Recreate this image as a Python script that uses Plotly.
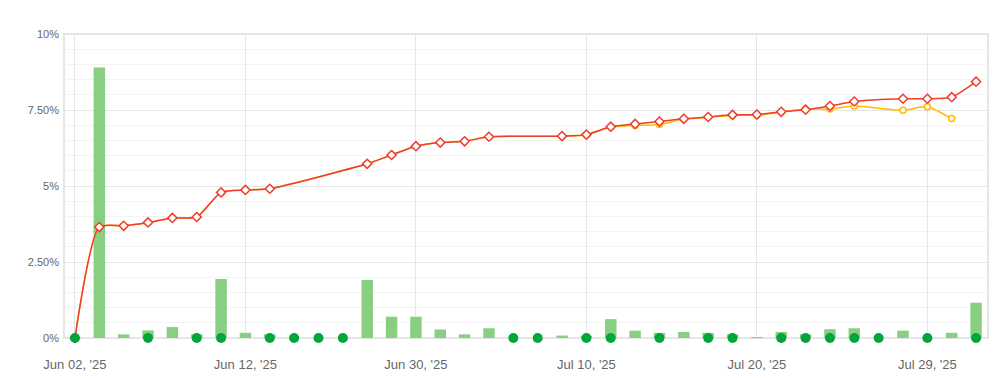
import plotly.graph_objects as go

# ---- data ----
categories = [
    "Jun 02, '25", "Jun 03, '25", "Jun 04, '25", "Jun 05, '25", "Jun 06, '25",
    "Jun 09, '25", "Jun 11, '25", "Jun 12, '25", "Jun 16, '25", "Jun 18, '25",
    "Jun 20, '25", "Jun 23, '25", "Jun 25, '25", "Jun 27, '25", "Jun 30, '25",
    "Jul 01, '25", "Jul 02, '25", "Jul 03, '25", "Jul 04, '25", "Jul 07, '25",
    "Jul 08, '25", "Jul 10, '25", "Jul 11, '25", "Jul 14, '25", "Jul 15, '25",
    "Jul 16, '25", "Jul 17, '25", "Jul 18, '25", "Jul 20, '25", "Jul 21, '25",
    "Jul 22, '25", "Jul 23, '25", "Jul 24, '25", "Jul 25, '25", "Jul 28, '25",
    "Jul 29, '25", "Jul 30, '25", "Jul 31, '25",
]
tick_labels = ["Jun 02, '25", "Jun 12, '25", "Jun 30, '25", "Jul 10, '25", "Jul 20, '25", "Jul 29, '25"]

bar_values = [
    None, 8.9, 0.12, 0.25, 0.36, 0.12, 1.94, 0.17, 0.12, None,
    None, None, 1.91, 0.70, 0.70, 0.28, 0.12, 0.32, None, None,
    0.08, 0.06, 0.62, 0.24, 0.17, 0.20, 0.17, 0.12, 0.03, 0.20,
    0.12, 0.29, 0.32, None, 0.24, None, 0.17, 1.16,
]

zero_dots = [0 if i in (0, 3, 5, 6, 8, 9, 10, 11, 18, 19, 21, 22, 24, 26, 27, 29,
                        30, 31, 32, 33, 35, 37) else None for i in range(38)]

red_values = [
    0.0, 3.65, 3.69, 3.80, 3.95, 3.98, 4.79, 4.87, 4.91, None,
    None, None, 5.73, 6.02, 6.31, 6.43, 6.47, 6.62, None, None,
    6.64, 6.69, 6.95, 7.04, 7.12, 7.21, 7.27, 7.34, 7.35, 7.44,
    7.51, 7.63, 7.78, None, 7.87, 7.87, 7.92, 8.43,
]

orange_values = [
    0.0, 3.65, 3.69, 3.80, 3.95, 3.98, 4.79, 4.87, 4.91, None,
    None, None, 5.73, 6.02, 6.31, 6.43, 6.47, 6.62, None, None,
    6.64, 6.68, 6.94, 6.99, 7.02, 7.20, 7.26, 7.32, 7.33, 7.43,
    7.53, 7.53, 7.63, None, 7.49, 7.61, 7.22, None,
]

y_ticks = [0, 2.5, 5, 7.5, 10]
y_tick_text = ["0%", "2.50%", "5%", "7.50%", "10%"]

# ---- figure ----
fig = go.Figure()

fig.add_trace(go.Bar(
    x=categories, y=bar_values, width=0.47,
    marker=dict(color="#88cf82", line=dict(width=0)),
    hoverinfo="skip",
))

fig.add_trace(go.Scatter(
    x=categories, y=orange_values, mode="lines+markers",
    connectgaps=True,
    line=dict(color="#ffbb00", width=1.5, shape="spline", smoothing=0.6),
    marker=dict(symbol="circle", size=6, color="white",
                line=dict(color="#ffbb00", width=1.5)),
    cliponaxis=False,
))

fig.add_trace(go.Scatter(
    x=categories, y=red_values, mode="lines+markers",
    connectgaps=True,
    line=dict(color="#ee3d2f", width=1.5, shape="spline", smoothing=0.6),
    marker=dict(symbol="diamond", size=7, color="white",
                line=dict(color="#ee3d2f", width=1.5)),
    cliponaxis=False,
))

fig.add_trace(go.Scatter(
    x=categories, y=zero_dots, mode="markers",
    marker=dict(symbol="circle", size=10, color="#00a63a"),
    cliponaxis=False,
))

fig.add_shape(type="rect", xref="paper", yref="paper", x0=0, x1=1, y0=0, y1=1,
              line=dict(color="#e6e6e6", width=2), layer="below")

# page body has an 8px default margin, so the figure is sized/offset to compensate
fig.update_layout(
    width=993, height=370,
    margin=dict(l=56, r=13, t=26, b=40, autoexpand=False),
    paper_bgcolor="white", plot_bgcolor="white",
    showlegend=False,
    font=dict(family="Liberation Sans, Arial, sans-serif", color="#666666"),
    bargap=0.5,
)

fig.update_xaxes(
    type="category", categoryorder="array", categoryarray=categories,
    range=[-0.45, 37.49], automargin=False,
    tickmode="array", tickvals=tick_labels, ticktext=tick_labels,
    showgrid=True, gridcolor="#e6e6e6", gridwidth=1,
    showline=False, zeroline=False, ticks="",
    tickfont=dict(size=13, color="#666666"),
    ticklabelstandoff=17,
)

fig.update_yaxes(
    range=[0, 10], automargin=False,
    tickmode="array", tickvals=y_ticks, ticktext=y_tick_text,
    showgrid=True, gridcolor="#e6e6e6", gridwidth=1,
    minor=dict(dtick=0.5, showgrid=True, gridcolor="#f3f3f3", gridwidth=1),
    zeroline=False, showline=False, ticks="",
    tickfont=dict(size=11, color="#666666"),
    ticklabelstandoff=4,
)

fig.write_html("out.html")
